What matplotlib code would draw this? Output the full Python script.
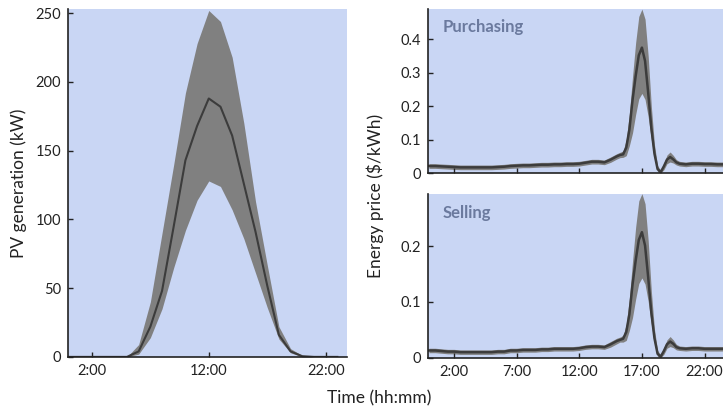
import matplotlib
matplotlib.use("Agg")
import matplotlib.pyplot as plt

plt.rcParams['font.family'] = ['Lato', 'DejaVu Sans']

BG = '#c9d6f4'
BAND = '#808080'
LINE = '#3c3c3c'
TAG = '#6b7a9e'

# PV generation (kW), hourly mean with lower/upper envelope
pv_hours = list(range(24))
pv_mean = [0, 0, 0, 0, 0, 0, 4, 22, 48, 95, 143, 168, 188, 182, 161, 126,
           91, 52, 16, 4, 0.5, 0, 0, 0]
pv_low = [0, 0, 0, 0, 0, 0, 2, 14, 35, 65, 92, 114, 128, 124, 107, 86,
          61, 36, 13, 3, 0, 0, 0, 0]
pv_high = [0, 0, 0, 0, 0, 0, 9, 40, 90, 140, 192, 228, 252, 244, 218, 170,
           113, 67, 22, 6, 1, 0, 0, 0]

# energy prices ($/kWh)
price_hours = [0, 0.5, 1, 1.5, 2, 2.5, 3, 3.5, 4, 4.5, 5, 5.5, 6, 6.5, 7, 7.5,
               8, 8.5, 9, 9.5, 10, 10.5, 11, 11.5, 12, 12.5, 13, 13.5, 14, 14.5,
               15, 15.25, 15.5, 15.75, 16, 16.25, 16.5, 16.75, 17, 17.25, 17.5,
               17.75, 18, 18.25, 18.5, 18.75, 19, 19.25, 19.5, 19.75, 20,
               20.5, 21, 21.5, 22, 22.5, 23, 23.5, 24]

buy_mean = [0.021, 0.021, 0.020, 0.019, 0.018, 0.017, 0.017, 0.017, 0.017, 0.017,
            0.017, 0.018, 0.019, 0.021, 0.022, 0.023, 0.023, 0.024, 0.025, 0.025,
            0.026, 0.026, 0.027, 0.027, 0.028, 0.031, 0.034, 0.034, 0.032, 0.040,
            0.050, 0.054, 0.056, 0.076, 0.130, 0.218, 0.290, 0.352, 0.375, 0.335,
            0.240, 0.135, 0.058, 0.012, 0.003, 0.020, 0.040, 0.048, 0.041, 0.032,
            0.028, 0.026, 0.028, 0.028, 0.027, 0.027, 0.026, 0.026, 0.026]
buy_low = [0.014, 0.014, 0.013, 0.012, 0.011, 0.010, 0.010, 0.010, 0.010, 0.010,
           0.010, 0.011, 0.012, 0.014, 0.015, 0.016, 0.016, 0.017, 0.018, 0.018,
           0.019, 0.019, 0.020, 0.020, 0.021, 0.024, 0.027, 0.027, 0.025, 0.032,
           0.042, 0.046, 0.047, 0.052, 0.082, 0.120, 0.175, 0.222, 0.238, 0.220,
           0.168, 0.100, 0.042, 0.004, 0.000, 0.010, 0.028, 0.033, 0.030, 0.024,
           0.021, 0.019, 0.021, 0.021, 0.020, 0.020, 0.019, 0.019, 0.019]
buy_high = [0.028, 0.028, 0.027, 0.026, 0.025, 0.024, 0.024, 0.024, 0.024, 0.024,
            0.024, 0.025, 0.026, 0.028, 0.029, 0.030, 0.030, 0.031, 0.032, 0.032,
            0.033, 0.033, 0.034, 0.034, 0.035, 0.038, 0.041, 0.041, 0.039, 0.048,
            0.058, 0.062, 0.066, 0.100, 0.178, 0.288, 0.390, 0.468, 0.490, 0.460,
            0.350, 0.200, 0.085, 0.022, 0.008, 0.030, 0.054, 0.063, 0.053, 0.040,
            0.035, 0.033, 0.035, 0.035, 0.034, 0.034, 0.033, 0.033, 0.033]

sell_mean = [0.013, 0.013, 0.012, 0.011, 0.011, 0.010, 0.010, 0.010, 0.010, 0.010,
             0.010, 0.011, 0.011, 0.013, 0.013, 0.014, 0.014, 0.014, 0.015, 0.015,
             0.016, 0.016, 0.016, 0.016, 0.017, 0.019, 0.020, 0.020, 0.019, 0.024,
             0.030, 0.032, 0.034, 0.046, 0.078, 0.131, 0.174, 0.211, 0.225, 0.201,
             0.144, 0.081, 0.035, 0.007, 0.002, 0.012, 0.024, 0.029, 0.025, 0.019,
             0.017, 0.016, 0.017, 0.017, 0.016, 0.016, 0.016, 0.016, 0.016]
sell_low = [0.009, 0.009, 0.008, 0.007, 0.007, 0.006, 0.006, 0.006, 0.006, 0.006,
            0.006, 0.007, 0.007, 0.009, 0.009, 0.010, 0.010, 0.010, 0.011, 0.011,
            0.012, 0.012, 0.012, 0.012, 0.013, 0.015, 0.016, 0.016, 0.015, 0.019,
            0.025, 0.028, 0.028, 0.031, 0.049, 0.072, 0.105, 0.133, 0.143, 0.132,
            0.101, 0.060, 0.025, 0.002, 0.000, 0.006, 0.017, 0.020, 0.018, 0.014,
            0.013, 0.012, 0.013, 0.013, 0.012, 0.012, 0.012, 0.012, 0.012]
sell_high = [0.017, 0.017, 0.016, 0.015, 0.015, 0.014, 0.014, 0.014, 0.014, 0.014,
             0.014, 0.015, 0.015, 0.017, 0.017, 0.018, 0.018, 0.018, 0.019, 0.019,
             0.020, 0.020, 0.020, 0.020, 0.021, 0.023, 0.024, 0.024, 0.023, 0.029,
             0.035, 0.037, 0.040, 0.060, 0.107, 0.173, 0.234, 0.281, 0.294, 0.276,
             0.210, 0.120, 0.051, 0.013, 0.005, 0.018, 0.032, 0.038, 0.032, 0.024,
             0.021, 0.020, 0.021, 0.021, 0.020, 0.020, 0.020, 0.020, 0.020]

pv_ticks = [2, 12, 22]
pv_ticklabels = ['2:00', '12:00', '22:00']
price_ticks = [2, 7, 12, 17, 22]
price_ticklabels = ['2:00', '7:00', '12:00', '17:00', '22:00']
XLIM = (-0.05, 23.8)


def style(ax):
    ax.set_facecolor(BG)
    for side in ['top', 'right']:
        ax.spines[side].set_visible(False)
    for side in ['left', 'bottom']:
        ax.spines[side].set_linewidth(1.2)
        ax.spines[side].set_color('#222222')
    ax.tick_params(direction='in', length=3.5, width=1.0, labelsize=10.5,
                   colors='#222222', pad=5)
    ax.set_xlim(*XLIM)


fig = plt.figure(figsize=(7.23, 4.15), dpi=100)

# PV generation
ax1 = fig.add_axes([0.094, 0.140, 0.3855, 0.838])
style(ax1)
ax1.fill_between(pv_hours, pv_low, pv_high, color=BAND, lw=0)
ax1.plot(pv_hours, pv_mean, color=LINE, lw=1.5)
ax1.set_ylim(0, 253)
ax1.set_yticks([0, 50, 100, 150, 200, 250])
ax1.set_xticks(pv_ticks)
ax1.set_xticklabels(pv_ticklabels)
ax1.set_ylabel('PV generation (kW)', fontsize=12.5, color='#222222', labelpad=6)

# purchasing price
ax2 = fig.add_axes([0.5924, 0.583, 0.4133, 0.395])
style(ax2)
ax2.fill_between(price_hours, buy_low, buy_high, color=BAND, lw=0)
ax2.plot(price_hours, buy_mean, color=LINE, lw=1.8)
ax2.set_ylim(0, 0.49)
ax2.set_yticks([0, 0.1, 0.2, 0.3, 0.4])
ax2.set_yticklabels(['0', '0.1', '0.2', '0.3', '0.4'])
ax2.set_xticks(price_ticks)
ax2.set_xticklabels([])
ax2.text(0.048, 0.89, 'Purchasing', transform=ax2.transAxes, fontsize=12,
         fontweight='bold', color=TAG, va='center')

# selling price
ax3 = fig.add_axes([0.5924, 0.138, 0.4133, 0.394])
style(ax3)
ax3.fill_between(price_hours, sell_low, sell_high, color=BAND, lw=0)
ax3.plot(price_hours, sell_mean, color=LINE, lw=1.8)
ax3.set_ylim(0, 0.293)
ax3.set_yticks([0, 0.1, 0.2])
ax3.set_yticklabels(['0', '0.1', '0.2'])
ax3.set_xticks(price_ticks)
ax3.set_xticklabels(price_ticklabels)
ax3.text(0.048, 0.884, 'Selling', transform=ax3.transAxes, fontsize=12,
         fontweight='bold', color=TAG, va='center')

fig.text(0.519, 0.527, 'Energy price ($/kWh)', rotation=90, fontsize=12.5,
         color='#222222', ha='center', va='center')
fig.text(0.525, 0.04, 'Time (hh:mm)', fontsize=12.5, color='#222222',
         ha='center', va='center')

fig.savefig('out.png', dpi=100)
